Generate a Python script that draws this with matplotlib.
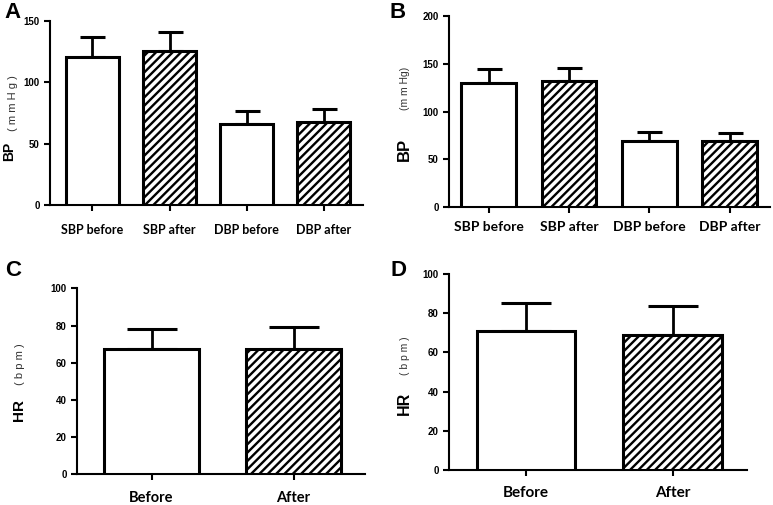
import matplotlib
matplotlib.use("Agg")
import matplotlib.pyplot as plt

plt.rcParams['font.family'] = ['Liberation Sans', 'DejaVu Sans']
plt.rcParams['hatch.linewidth'] = 1.7

# panel A / B: blood pressure
bp_labels = ['SBP before', 'SBP after', 'DBP before', 'DBP after']
bp_a_mean = [121, 126, 66, 68]
bp_a_sd = [16, 15, 11, 10.5]
bp_b_mean = [129.5, 132, 69, 69]
bp_b_sd = [15.5, 14, 10, 9]

# panel C / D: heart rate
hr_labels = ['Before', 'After']
hr_c_mean = [67.5, 67.6]
hr_c_sd = [10.8, 11.5]
hr_d_mean = [70.9, 68.9]
hr_d_sd = [14.5, 15]


def draw(ax, labels, means, sds, ymax, ystep, xlim, width, xfs, capsize, pad):
    x = list(range(len(labels)))
    hatches = ['', '////'] * (len(labels) // 2)
    for i in x:
        ax.bar(i, means[i], width=width, color='white', edgecolor='black',
               linewidth=2.2, hatch=hatches[i], zorder=3)
        ax.errorbar(i, means[i], yerr=[[0], [sds[i]]], color='black',
                    elinewidth=2, capsize=capsize, capthick=2.2, zorder=2)
    ax.set_xlim(*xlim)
    ax.set_ylim(0, ymax)
    ax.set_yticks(range(0, ymax + 1, ystep))
    ax.set_xticks(x)
    ax.set_xticklabels(labels, fontsize=xfs, fontweight='bold', family='Lato')
    for lab in ax.get_yticklabels():
        lab.set_fontsize(7)
        lab.set_fontweight('bold')
    ax.spines['top'].set_visible(False)
    ax.spines['right'].set_visible(False)
    for s in ['left', 'bottom']:
        ax.spines[s].set_linewidth(1.5)
    ax.tick_params(axis='both', width=1.5, length=4, direction='out')
    ax.tick_params(axis='x', pad=pad)


fig = plt.figure(figsize=(7.73, 5.05), dpi=100)

axA = fig.add_axes([0.0647, 0.594, 0.405, 0.364])
draw(axA, bp_labels, bp_a_mean, bp_a_sd, 150, 50, (-0.55, 3.51), 0.69, 9, 9, 9.5)
axB = fig.add_axes([0.581, 0.5895, 0.415, 0.379])
draw(axB, bp_labels, bp_b_mean, bp_b_sd, 200, 50, (-0.49, 3.50), 0.68, 10, 9, 6)
axC = fig.add_axes([0.0996, 0.0608, 0.3726, 0.368])
draw(axC, hr_labels, hr_c_mean, hr_c_sd, 100, 20, (-0.525, 1.503), 0.67, 10.5, 18, 8)
axD = fig.add_axes([0.5813, 0.0693, 0.3847, 0.388])
draw(axD, hr_labels, hr_d_mean, hr_d_sd, 100, 20, (-0.523, 1.504), 0.672, 11, 18, 7.5)

W, H = 773.0, 505.0


def ftext(px, py, s, **kw):
    fig.text(px / W, 1 - py / H, s, **kw)


# panel letters
for px, py, s in [(13, 12, 'A'), (398, 12, 'B'), (13, 271, 'C'), (398, 271, 'D')]:
    ftext(px, py, s, fontsize=16, fontweight='bold', ha='center', va='center')

# y labels
ftext(9, 151, 'BP', rotation=90, fontsize=10, fontweight='bold', ha='center', va='center')
ftext(13, 103, '( m m H g )', rotation=90, fontsize=8, color='#333333', ha='center', va='center')
ftext(404, 149, 'BP', rotation=90, fontsize=12, fontweight='bold', ha='center', va='center')
ftext(405, 88, '(m m Hg)', rotation=90, fontsize=7.5, color='#333333', ha='center', va='center')
ftext(19, 410, 'HR', rotation=90, fontsize=11, fontweight='bold', ha='center', va='center')
ftext(20, 364, '( b p m )', rotation=90, fontsize=8, color='#333333', ha='center', va='center')
ftext(404, 403, 'HR', rotation=90, fontsize=11.5, fontweight='bold', ha='center', va='center')
ftext(405, 356, '( b p m )', rotation=90, fontsize=7.5, color='#333333', ha='center', va='center')

fig.savefig('out.png', dpi=100)
